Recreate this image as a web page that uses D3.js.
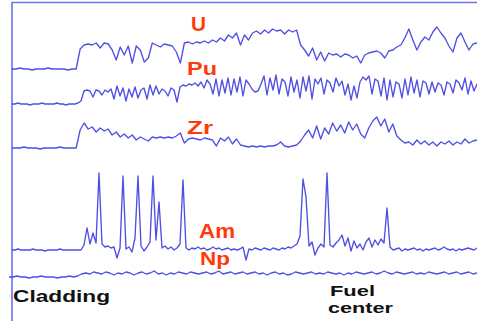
<!DOCTYPE html>
<html>
<head>
<meta charset="utf-8">
<script src="https://cdn.jsdelivr.net/npm/d3@7"></script>
<style>
  html, body { margin: 0; padding: 0; background: #fff; }
  svg { display: block; }
</style>
</head>
<body>
<div id="chart"></div>
<script>
// ── line-scan intensity profiles, cladding -> fuel center ──
// values = signal height above each trace's own baseline (arbitrary units)

const seriesNames = ["U", "Pu", "Zr", "Am", "Np"];

const uValues = [
  0, 0, 1, 0, 0, -1, 0, 0, 0, 1, 0, 0, 0, 0, -1, 0, 0,
  20, 24, 25, 24, 26, 21, 26, 25, 19, 9, 22, 14, 23, 6, 23, 19, 7, 11, 26, 24,
  22, 25, 24, 23, 17, 6, 26, 27, 25, 27, 26, 28, 26, 29, 27, 31, 28, 34, 31, 36,
  24, 34, 29, 36, 38, 35, 39, 36, 40, 38, 39, 35, 39, 37, 39, 24, 19, 13, 21, 9,
  17, 8, 16, 14, 15, 12, 15, 14, 11, 13, 6, 14, 16, 17, 18, 16, 11, 18, 19, 22,
  24, 31, 40, 29, 19, 27, 32, 29, 37, 42, 36, 31, 23, 17, 31, 36, 27, 19, 25, 26
];

const puValues = [
  0, 0, 1, 0, 0, 0, -1, 0, 0, 0, 1, 0, 0, 0, 0, 1, 0, 0, -1, 0, 0, 0, 1,
  3, 13, 14, 13, 7, 14, 13, 9, 14, 12, 15, 5, 18, 8, 16, 3, 15, 7, 17, 6, 14, 16,
  5, 19, 9, 18, 10, 15, 13, 8, 16, 14, 2, 17, 19, 18, 20, 19, 21, 18, 22, 16, 24,
  20, 10, 25, 8, 24, 11, 26, 9, 25, 12, 27, 8, 24, 20, 15, 12, 13, 20, 28, 9, 26,
  14, 29, 10, 25, 22, 8, 27, 12, 24, 6, 27, 13, 28, 5, 25, 20, 26, 10, 24, 21, 12,
  26, 18, 23, 9, 20, 4, 18, 6, 22, 27, 24, 28, 10, 25, 23, 8, 26, 4, 24, 7, 22, 20,
  6, 25, 9, 27, 11, 24, 7, 23, 21, 10, 22, 12, 21, 19, 9, 22, 20, 11, 24, 21, 14,
  26, 10, 23, 13, 20
];

const zrValues = [
  0, 0, 0, 1, 0, 0, 0, -1, 0, 0, 0, 0, 1, 0, 0, 0, 0,
  18, 25, 19, 21, 16, 20, 17, 19, 13, 16, 11, 14, 10, 13, 8, 11, 9, 7, 11, 10,
  11, 10, 11, 10, 12, 15, 5, 9, 10, 9, 8, 10, 9, 8, 2, 10, 7, 11, 4, 9,
  3, 2, 1, 2, 1, 2, 1, 2, 2, 3, 6, 2, 1, 2, 3, 7, 13, 18, 10, 22,
  9, 20, 14, 25, 17, 23, 15, 26, 18, 24, 14, 10, 20, 27, 31, 22, 29, 16, 24, 12,
  8, 5, 6, 3, 8, 4, 7, 3, 6, 2, 6, 4, 7, 3, 6, 4, 9, 5, 7, 8
];

const amValues = [
  0, 0, 1, 0, 0, 0, 0, 1, 0, 0, 0, -1, 0, 0, 0, 0, 1, 0, 0, 0, 0, 0, 0, 0,
  5, 22, 6, 17, 7, 77, 6, 3, 4, 2, 3, -8, 2, 74, 1, 3, -2, 12, 74, 4, -1, 3,
  8, 74, 10, 48, 2, 4, 1, 3, 0, 2, 6, 70, 2, 0, 2, 1, 3, 1, 2, 0, 1, 3,
  1, 2, 0, 1, 2, 0, 1, 0, 1, 3, -10, 1, 0, 2, 1, 0, 2, 1, 0, 2, 1, 0,
  2, 1, 3, 2, 4, 6, 14, 71, 53, 4, 8, -5, 2, 6, 3, 77, 5, 3, 7, 10, 15, 4,
  12, -1, 9, 2, 6, 0, 8, 12, 3, 10, 5, 11, 7, 42, 3, 0, 1, 2, -1, 1, 0, 1,
  2, 0, 1, -1, 1, 0, 1, 2, 0, 1, 3, 1, 0, 1, -1, 1, 0, 1, 2, 1, 0, 2
];

const npValues = [
  0, 0, 1, 0, 0, -1, 0, 0, 1, 0, 0, 0, -1, 0, 0, 1, 0, 1,
  3, 4, 3, 5, 4, 3, 5, 4, 2, 4, 3, 5, 4, 2, 4, 5, 3, 4, 6, 3, 4, 2, 4, 3,
  5, 4, 3, 5, 4, 3, 4, 5, 3, 4, 6, 3, 4, 5, 3, 4, 5, 3, 4, 5, 3, 4, 2, 4,
  5, 3, 4, 2, 3, 5, 4, 3, 4, 5, 3, 4, 3, 5, 4, 3, 4, 2, 4, 3, 5, 4, 3, 4,
  5, 3, 4, 6, 4, 3, 5, 4, 3, 4, 5, 3, 4, 3, 5, 4, 3, 4, 5, 3, 4, 5, 3, 4, 5, 3, 4
];

const endLabels = ["Cladding", ["Fuel", "center"]];

// ── layout ──
const width = 477, height = 321;
const x0 = 12, x1 = 477;

// baseline of each trace (same units as values, measured from the bottom)
const traces = [
  { name: "U",  values: uValues,  base: 252, label: { x: 191, y: 31, size: 20, len: 15 } },
  { name: "Pu", values: puValues, base: 217, label: { x: 187, y: 75, size: 18, len: 30 } },
  { name: "Zr", values: zrValues, base: 173, label: { x: 187, y: 134, size: 18, len: 26 } },
  { name: "Am", values: amValues, base: 71,  label: { x: 199, y: 238, size: 20, len: 36 } },
  { name: "Np", values: npValues, base: 44,  label: { x: 200, y: 265, size: 18, len: 30 } }
];

const y = d3.scaleLinear().domain([0, height]).range([height, 0]);

const svg = d3.select("#chart").append("svg")
  .attr("width", width).attr("height", height)
  .attr("viewBox", [0, 0, width, height]);

// frame (left + top)
svg.append("path")
  .attr("d", `M${x0},${height}V2.5H${width}`)
  .attr("fill", "none")
  .attr("stroke", "#6f6ff0")
  .attr("stroke-width", 1.6);

// traces
traces.forEach(t => {
  const xs = d3.scaleLinear().domain([0, t.values.length - 1])
    .range([t.name === "Np" ? 9 : x0, x1]);
  const line = d3.line()
    .x((d, i) => xs(i))
    .y(d => y(t.base + d));
  svg.append("path")
    .datum(t.values)
    .attr("fill", "none")
    .attr("stroke", "#3c3ce0")
    .attr("stroke-width", 1.35)
    .attr("stroke-opacity", 0.9)
    .attr("stroke-linejoin", "round")
    .attr("d", line);
});

// element labels
svg.append("g")
  .selectAll("text").data(traces).join("text")
  .attr("x", d => d.label.x)
  .attr("y", d => d.label.y)
  .attr("font-family", "'Liberation Sans', Arial, sans-serif")
  .attr("font-weight", "700")
  .attr("font-size", d => d.label.size)
  .attr("fill", "#ff3a0a")
  .attr("textLength", d => d.label.len)
  .attr("lengthAdjust", "spacingAndGlyphs")
  .text(d => d.name);

// position labels
const blk = svg.append("g")
  .attr("font-family", "'Liberation Sans', Arial, sans-serif")
  .attr("font-weight", "700")
  .attr("fill", "#111");

blk.append("text")
  .attr("x", 13).attr("y", 302)
  .attr("font-size", 17)
  .attr("textLength", 97).attr("lengthAdjust", "spacingAndGlyphs")
  .text(endLabels[0]);

blk.append("text")
  .attr("x", 330).attr("y", 296)
  .attr("font-size", 15)
  .attr("textLength", 45).attr("lengthAdjust", "spacingAndGlyphs")
  .text(endLabels[1][0]);

blk.append("text")
  .attr("x", 328).attr("y", 313)
  .attr("font-size", 15)
  .attr("textLength", 65).attr("lengthAdjust", "spacingAndGlyphs")
  .text(endLabels[1][1]);
</script>
</body>
</html>
